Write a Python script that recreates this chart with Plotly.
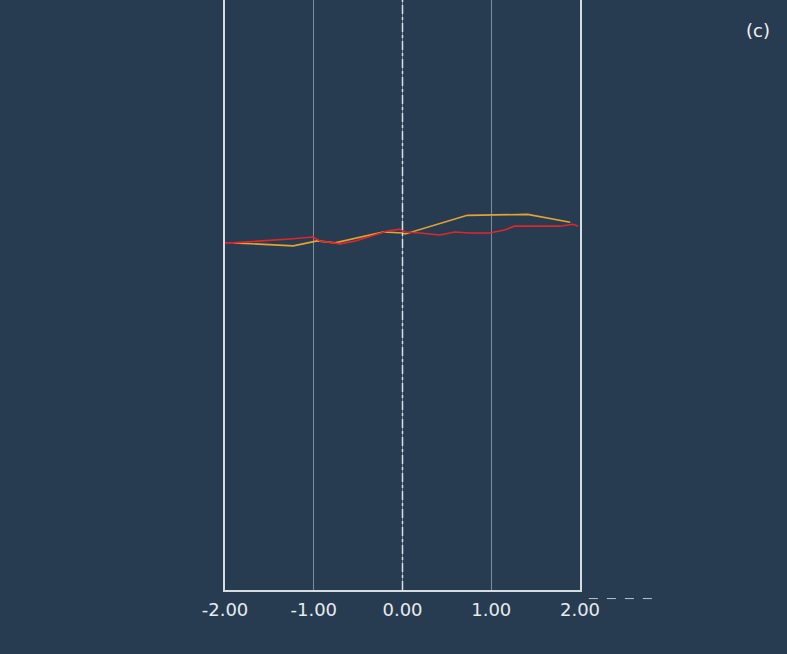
import plotly.graph_objects as go

# x positions (axis units) and y values (arbitrary units)
orange_x = [-1.90, -1.23, -0.96, -0.76, -0.22, 0.00, 0.03, 0.73, 1.41, 1.89]
orange_y = [0.53, 0.50, 0.55, 0.53, 0.64, 0.63, 0.62, 0.81, 0.82, 0.74]

red_x = [-2.00, -1.91, -1.27, -1.01, -0.93, -0.70, -0.53, -0.25, -0.17, -0.03,
         0.03, 0.20, 0.42, 0.59, 0.76, 0.98, 1.15, 1.26, 1.43, 1.60, 1.77,
         1.92, 1.98]
red_y = [0.53, 0.53, 0.57, 0.59, 0.55, 0.52, 0.55, 0.63, 0.65, 0.67,
         0.64, 0.63, 0.61, 0.64, 0.63, 0.63, 0.66, 0.70, 0.70, 0.70, 0.70,
         0.72, 0.70]

tick_vals = [-2, -1, 0, 1, 2]
tick_text = ["-2.00", "-1.00", "0.00", "1.00", "2.00"]

bg = "#283c51"

fig = go.Figure()
fig.add_trace(go.Scatter(x=orange_x, y=orange_y, mode="lines",
                         line=dict(color="#e3a232", width=1.6),
                         showlegend=False, hoverinfo="skip"))
fig.add_trace(go.Scatter(x=red_x, y=red_y, mode="lines",
                         line=dict(color="#e1262b", width=1.6),
                         showlegend=False, hoverinfo="skip"))

fig.add_vline(x=0, line=dict(color="#d8dee6", width=1.5, dash="dashdot"))

fig.add_annotation(text="(c)", xref="paper", yref="paper", x=1.50, y=0.949,
                   showarrow=False, font=dict(size=18, color="#f0f3f6",
                                              family="DejaVu Sans"),
                   xanchor="center", yanchor="middle")

fig.add_shape(type="line", xref="paper", yref="paper", x0=1.025, x1=1.21,
              y0=-0.0145, y1=-0.0145,
              line=dict(color="#b9c3ce", width=1, dash="dash"))

fig.update_layout(
    width=787, height=654,
    margin=dict(l=225, r=207, t=0, b=64),
    paper_bgcolor=bg, plot_bgcolor=bg,
    xaxis=dict(range=[-2, 2], tickvals=tick_vals, ticktext=tick_text,
               showgrid=True, gridcolor="#7f8c9b", gridwidth=1,
               zeroline=False, showline=True, linecolor="#d5dce4",
               linewidth=1.5, mirror=False, ticks="", ticklabelstandoff=3,
               tickfont=dict(size=18, color="#e6ebf0", family="DejaVu Sans")),
    yaxis=dict(range=[-3, 3], showgrid=False, zeroline=False,
               showticklabels=False, showline=True, mirror=True,
               linecolor="#d5dce4", linewidth=1.5, ticks=""),
)

fig.write_html(
    "out.html",
    config={"displayModeBar": False},
    post_script="document.body.style.margin='0';"
                "document.body.style.background='" + bg + "';"
                "document.body.style.overflow='hidden';",
)
